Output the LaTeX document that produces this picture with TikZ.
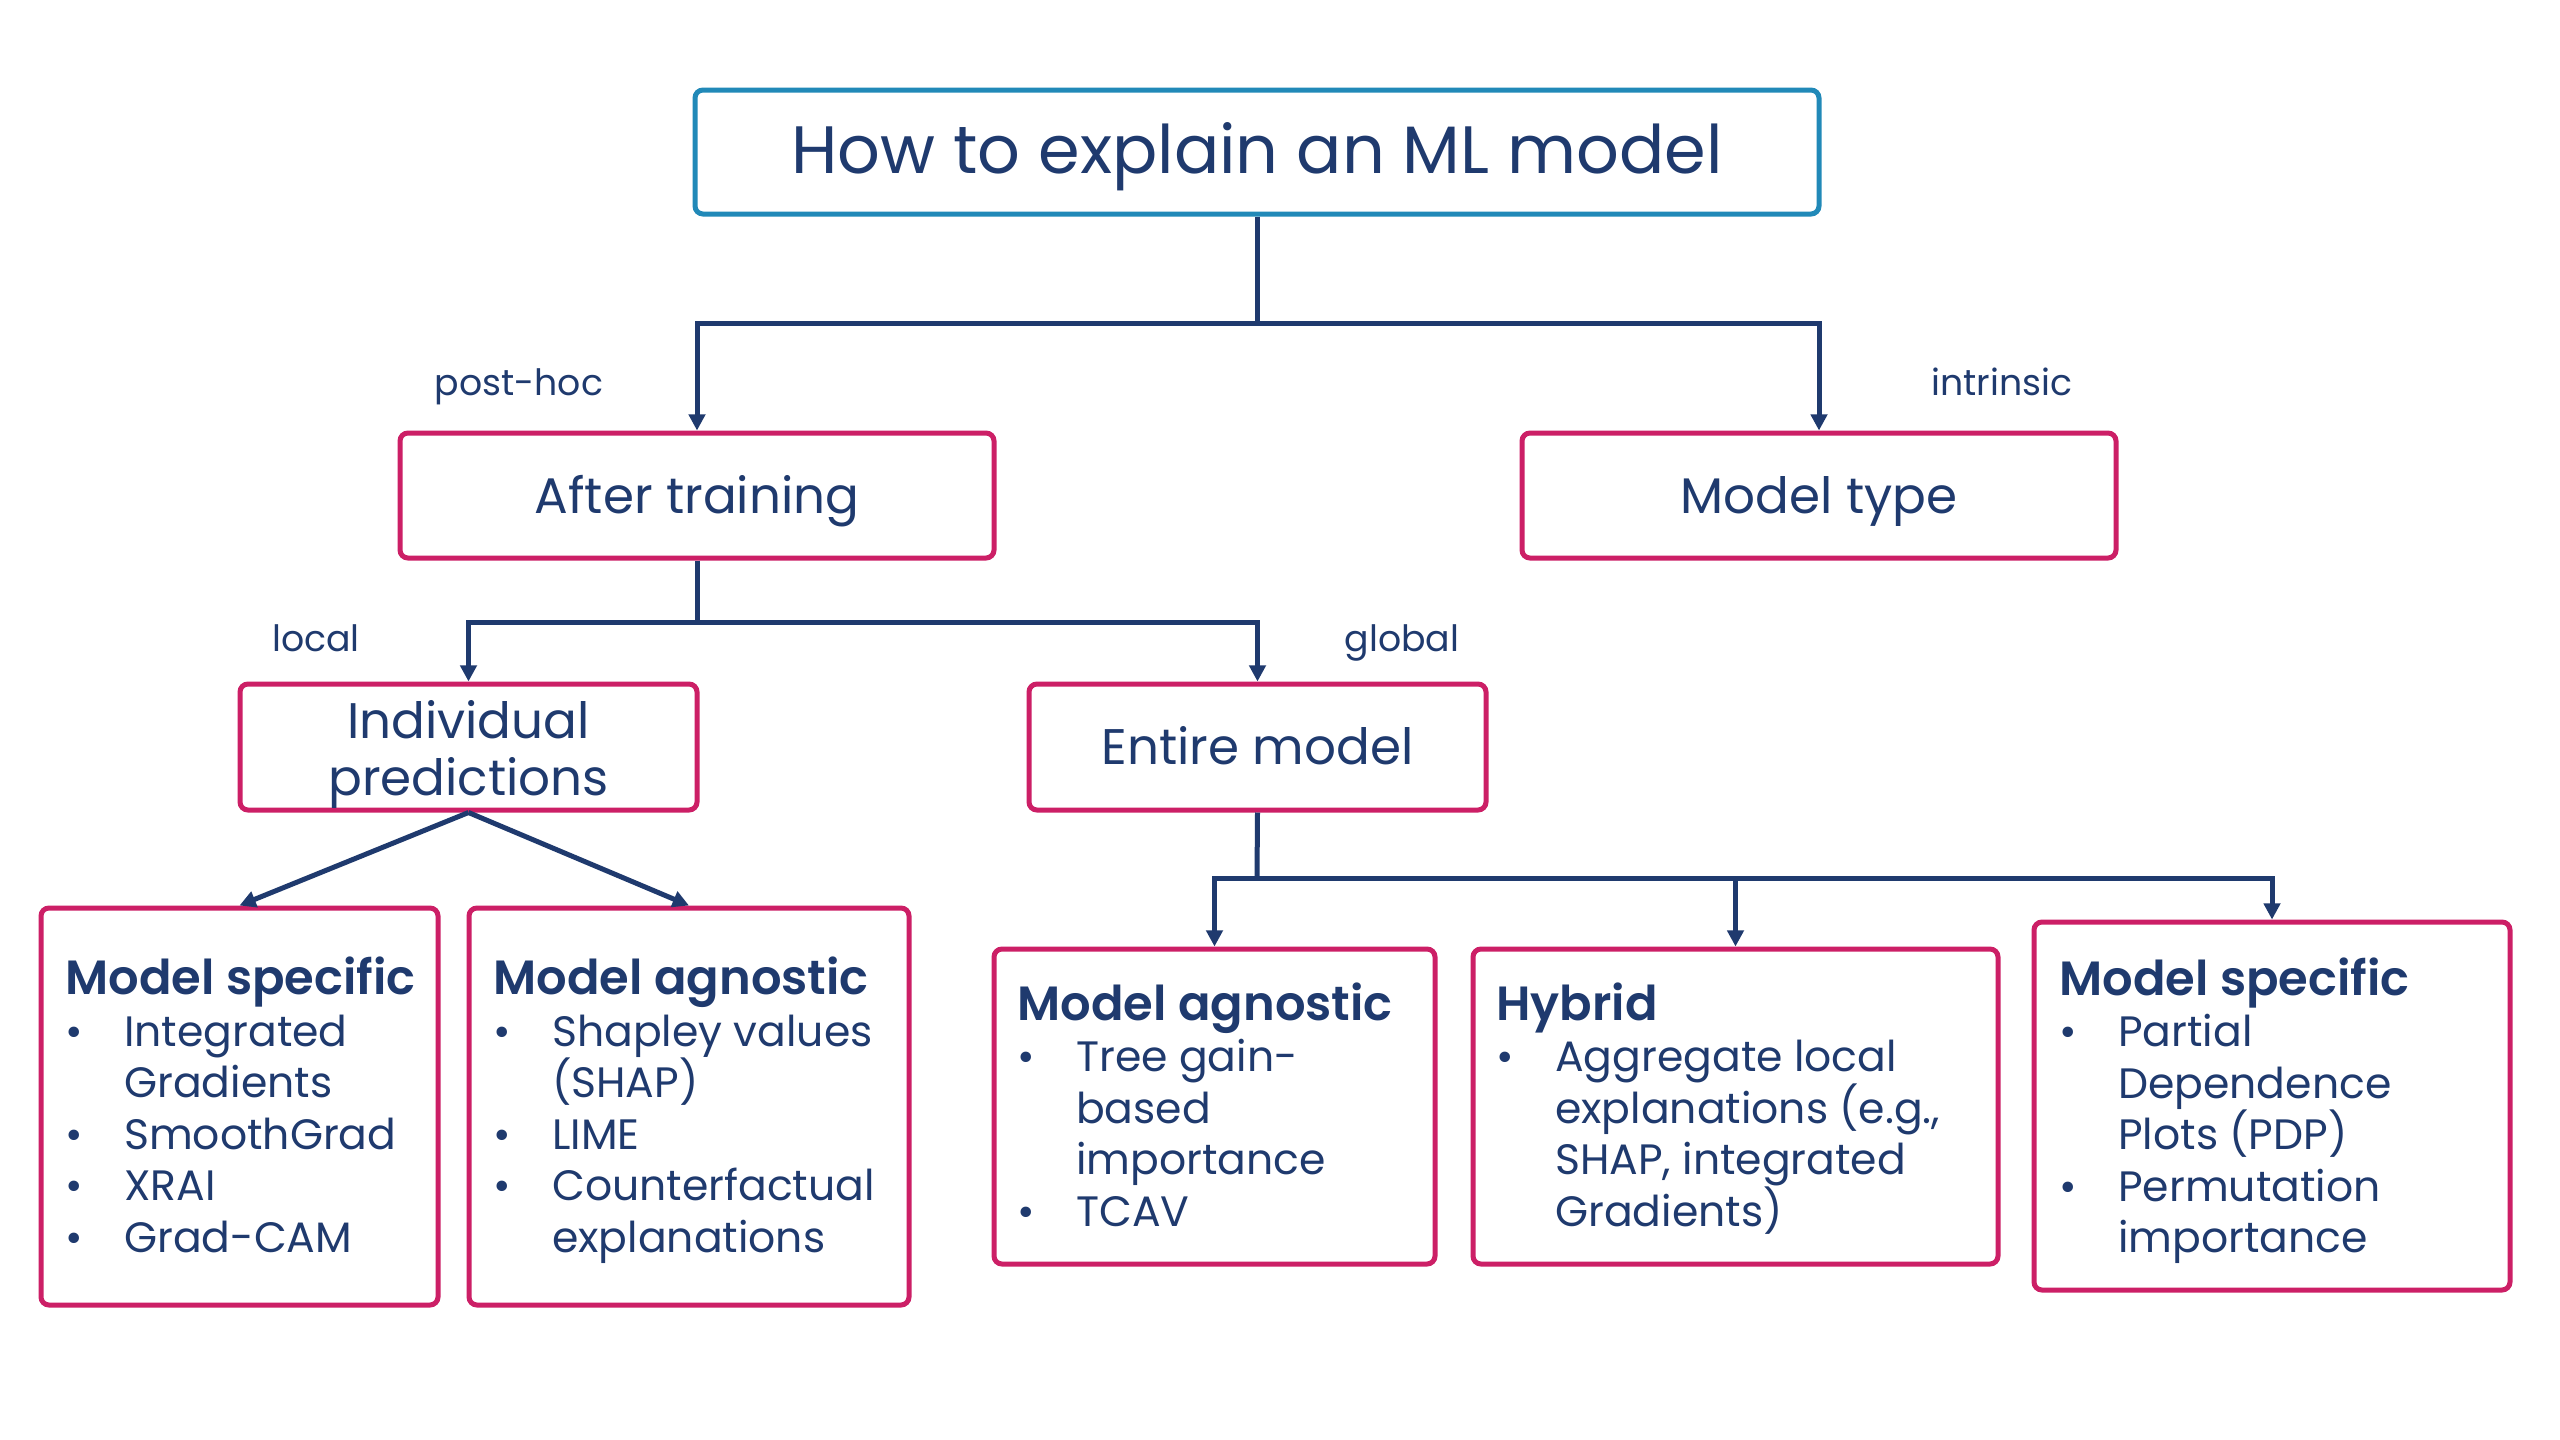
\documentclass[tikz,border=0pt]{standalone}
\usepackage{fontspec}
\setmainfont{Poppins}[BoldFont={Poppins SemiBold}]
\usetikzlibrary{arrows.meta}
\definecolor{navy}{HTML}{1F3A6E}
\definecolor{pinkb}{HTML}{CC1F66}
\definecolor{titleblue}{HTML}{2189B8}
\newcommand\hd[1]{{\fontsize{19.2}{22}\selectfont\bfseries #1}}
\newcommand\bl{\makebox[23.5pt][l]{\textbullet}}
\newcommand\ind{\hspace*{23.5pt}}
\begin{document}
\begin{tikzpicture}[x=0.4pt,y=-0.4pt,
  box/.style={draw=pinkb, line width=2pt, rounded corners=3.2pt, text=navy, align=center, inner sep=0pt},
  conn/.style={draw=navy, line width=2pt},
  arr/.style={conn, -{Triangle[length=6.5pt,width=6.5pt]}},
  lbl/.style={text=navy, font=\fontsize{14.5}{17}\selectfont, inner sep=0pt, anchor=base},
  leaf/.style={text=navy, align=left, inner sep=0pt, font=\fontsize{17}{20.6}\selectfont, anchor=base west},
  mid/.style={font=\fontsize{20}{22.7}\selectfont, text height=14pt, text depth=0pt}]
\useasboundingbox (0,0) rectangle (2560,1440);
\fill[white] (0,0) rectangle (2560,1440);

% top
\node[box, draw=titleblue, minimum width=1124*0.4pt, minimum height=124*0.4pt,
      font=\fontsize{26.8}{30}\selectfont, text height=16.8pt, text depth=0pt] (title) at (1257,152) {How to explain an ML model};
\node[box, mid, minimum width=594*0.4pt, minimum height=125*0.4pt] (after) at (697,495.5) {After training};
\node[box, mid, minimum width=594*0.4pt, minimum height=125*0.4pt] (mtype) at (1819,495.5) {Model type};
\node[box, minimum width=457*0.4pt, minimum height=126*0.4pt] (indiv) at (468.5,747) {};
\node[text=navy, align=center, inner sep=0pt, anchor=base, font=\fontsize{20}{22.7}\selectfont] (indivt) at (468.5,795) {Individual\\predictions};
\node[box, mid, minimum width=457*0.4pt, minimum height=126*0.4pt] (entire) at (1257.5,747) {Entire model};

% leaves
\node[box, minimum width=397*0.4pt, minimum height=397*0.4pt] (l1) at (239.5,1106.5) {};
\node[box, minimum width=440*0.4pt, minimum height=397*0.4pt] (l2) at (689,1106.5) {};
\node[box, minimum width=441*0.4pt, minimum height=315*0.4pt] (r1) at (1214.5,1106.5) {};
\node[box, minimum width=525*0.4pt, minimum height=315*0.4pt] (r2) at (1735.5,1106.5) {};
\node[box, minimum width=476*0.4pt, minimum height=368*0.4pt] (r3) at (2272,1106) {};

\node[leaf] (l1t) at (65,1252) {\hd{Model specific}\\
  \bl Integrated\\ \ind Gradients\\ \bl SmoothGrad\\ \bl XRAI\\ \bl Grad-CAM};
\node[leaf] (l2t) at (493,1252) {\hd{Model agnostic}\\
  \bl Shapley values\\ \ind (SHAP)\\ \bl LIME\\ \bl Counterfactual\\ \ind explanations};
\node[leaf] (r1t) at (1017,1226) {\hd{Model agnostic}\\
  \bl Tree gain-\\ \ind based\\ \ind importance\\ \bl TCAV};
\node[leaf] (r2t) at (1496,1226) {\hd{Hybrid}\\
  \bl Aggregate local\\ \ind explanations (e.g.,\\ \ind SHAP, integrated\\ \ind Gradients)};
\node[leaf] (r3t) at (2059,1252.5) {\hd{Model specific}\\
  \bl Partial\\ \ind Dependence\\ \ind Plots (PDP)\\ \bl Permutation\\ \ind importance};

% labels
\node[lbl] (posthoc) at (519,395) {post-hoc};
\node[lbl] (intrinsic) at (2002,395) {intrinsic};
\node[lbl] (local) at (316,651) {local};
\node[lbl] (global) at (1402,651) {global};

% connectors
\coordinate (j1) at (1257,323);
\coordinate (j2) at (697,622);
\coordinate (j3) at (1257,878);
\draw[conn] (title.south) -- (j1);
\draw[arr] (j1) -| (after.north);
\draw[arr] (j1) -| (mtype.north);
\draw[conn] (after.south) -- (j2);
\draw[arr] (j2) -| (indiv.north);
\draw[arr] (j2) -| (entire.north);
\draw[arr] (indiv.south) -- (l1.north);
\draw[arr] (indiv.south) -- (l2.north);
\draw[conn] (entire.south) -- (j3);
\draw[arr] (j3) -| (r1.north);
\draw[arr] (j3) -| (r2.north);
\draw[arr] (j3) -| (r3.north);
\end{tikzpicture}
\end{document}
